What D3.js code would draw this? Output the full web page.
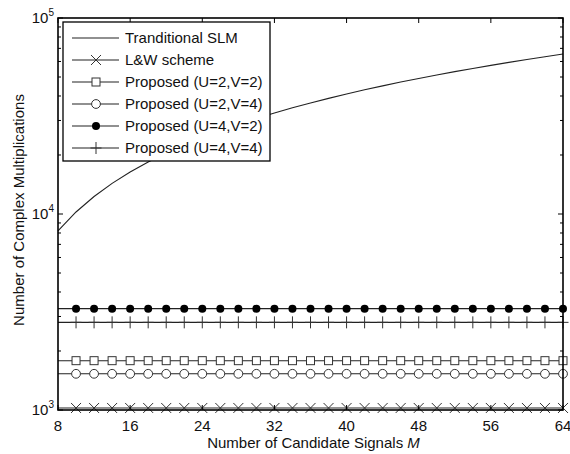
<!DOCTYPE html>
<html><head><meta charset="utf-8">
<script src="https://cdn.jsdelivr.net/npm/d3@7"></script>
<style>body{margin:0;background:#fff;} text{font-family:"Liberation Sans",Arial,sans-serif;fill:#111;}</style>
</head><body>
<svg id="c" width="570" height="454"></svg>
<script>
// ---- data ----
const mTradition = [8,10,12,14,16,18,20,22,24,26,28,30,32,34,36,38,40,42,44,46,48,50,52,54,56,58,60,62,64];
const tradValues = [8192,10240,12288,14336,16384,18432,20480,22528,24576,26624,28672,30720,32768,34816,36864,38912,40960,43008,45056,47104,49152,51200,53248,55296,57344,59392,61440,63488,65536];
const mMarkers = [10,12,14,16,18,20,22,24,26,28,30,32,34,36,38,40,42,44,46,48,50,52,54,56,58,60,62,64];
const lwValue = 1024;
const u2v2Value = 1785;
const u2v4Value = 1530;
const u4v2Value = 3290;
const u4v4Value = 2800;
const seriesNames = ["Tranditional SLM","L&W scheme","Proposed (U=2,V=2)","Proposed (U=2,V=4)","Proposed (U=4,V=2)","Proposed (U=4,V=4)"];
const xTicks = [8,16,24,32,40,48,56,64];
const yTicks = [1000,10000,100000];

// ---- layout ----
const svg = d3.select("#c");
const L = 58, R = 563, T = 18, B = 410;
const FS = 15;
const x = d3.scaleLinear().domain([8,64]).range([L,R]);
const y = d3.scaleLog().domain([1000,100000]).range([B,T]);

const plot = svg.append("g");
const line = d3.line().x(d=>x(d[0])).y(d=>y(d[1]));

// traditional
plot.append("path").datum(mTradition.map((m,i)=>[m,tradValues[i]]))
  .attr("d",line).attr("fill","none").attr("stroke","#222").attr("stroke-width",1.1);

function flat(v){ return [[8,v],[64,v]]; }
const flatSeries = [
  {v:lwValue, mk:"x"},
  {v:u2v2Value, mk:"sq"},
  {v:u2v4Value, mk:"o"},
  {v:u4v2Value, mk:"dot"},
  {v:u4v4Value, mk:"plus"}
];
function drawMarker(g, type, cx, cy){
  if(type==="x"){
    const s=5;
    g.append("path").attr("d",`M${cx-s},${cy-s}L${cx+s},${cy+s}M${cx-s},${cy+s}L${cx+s},${cy-s}`)
      .attr("stroke","#333").attr("stroke-width",1).attr("fill","none");
  } else if(type==="sq"){
    g.append("rect").attr("x",cx-4).attr("y",cy-4).attr("width",8).attr("height",8)
      .attr("fill","#fff").attr("stroke","#333").attr("stroke-width",1);
  } else if(type==="o"){
    g.append("circle").attr("cx",cx).attr("cy",cy).attr("r",4.4)
      .attr("fill","#fff").attr("stroke","#333").attr("stroke-width",1);
  } else if(type==="dot"){
    g.append("circle").attr("cx",cx).attr("cy",cy).attr("r",4).attr("fill","#000");
  } else if(type==="plus"){
    g.append("path").attr("d",`M${cx},${cy-6}L${cx},${cy+6}M${cx-5.5},${cy}L${cx+5.5},${cy}`)
      .attr("stroke","#333").attr("stroke-width",1).attr("fill","none");
  }
}
flatSeries.forEach(s=>{
  plot.append("path").datum(flat(s.v)).attr("d",line).attr("fill","none")
    .attr("stroke","#222").attr("stroke-width",1.1);
  mMarkers.forEach(m=>drawMarker(plot, s.mk, x(m), y(s.v)));
});

// ---- axes ----
const ax = svg.append("g");
ax.append("rect").attr("x",L).attr("y",T).attr("width",R-L).attr("height",B-T)
  .attr("fill","none").attr("stroke","#000").attr("stroke-width",1.6);
// x ticks
xTicks.forEach(t=>{
  ax.append("line").attr("x1",x(t)).attr("x2",x(t)).attr("y1",B).attr("y2",B-5).attr("stroke","#000");
  ax.append("line").attr("x1",x(t)).attr("x2",x(t)).attr("y1",T).attr("y2",T+5).attr("stroke","#000");
  ax.append("text").attr("x",x(t)).attr("y",B+21).attr("text-anchor","middle")
    .attr("font-size",FS).text(t);
});
// y ticks major + minor
const minor = [];
[1000,10000].forEach(d=>{ for(let k=2;k<=9;k++) minor.push(d*k); });
minor.forEach(v=>{
  ax.append("line").attr("x1",L).attr("x2",L+3).attr("y1",y(v)).attr("y2",y(v)).attr("stroke","#000");
  ax.append("line").attr("x1",R).attr("x2",R-3).attr("y1",y(v)).attr("y2",y(v)).attr("stroke","#000");
});
yTicks.forEach(v=>{
  ax.append("line").attr("x1",L).attr("x2",L+5).attr("y1",y(v)).attr("y2",y(v)).attr("stroke","#000");
  ax.append("line").attr("x1",R).attr("x2",R-5).attr("y1",y(v)).attr("y2",y(v)).attr("stroke","#000");
  const e = Math.round(Math.log10(v));
  const tx = ax.append("text").attr("x",L-4).attr("y",y(v)+5).attr("text-anchor","end").attr("font-size",FS);
  tx.append("tspan").text("10");
  tx.append("tspan").attr("dy",-7).attr("font-size",10).text(e);
});
// axis titles
const xt = svg.append("text").attr("x",(L+R)/2+3).attr("y",448).attr("text-anchor","middle").attr("font-size",FS);
xt.append("tspan").text("Number of Candidate Signals ");
xt.append("tspan").attr("font-style","italic").text("M");
svg.append("text").attr("transform",`translate(24,${(T+B)/2-4}) rotate(-90)`).attr("text-anchor","middle")
  .attr("font-size",FS).text("Number of Complex Multiplications");

// ---- legend ----
const lg = svg.append("g");
lg.append("rect").attr("x",63).attr("y",22).attr("width",207).attr("height",139)
  .attr("fill","#fff").attr("stroke","#000").attr("stroke-width",1.3);
const mk = [null,"x","sq","o","dot","plus"];
seriesNames.forEach((n,i)=>{
  const cy = 38 + i*22;
  lg.append("line").attr("x1",72).attr("x2",119).attr("y1",cy).attr("y2",cy).attr("stroke","#222").attr("stroke-width",1.1);
  if(mk[i]) drawMarker(lg, mk[i], 96, cy);
  lg.append("text").attr("x",125).attr("y",cy+5).attr("font-size",FS).text(n);
});
</script>
</body></html>
